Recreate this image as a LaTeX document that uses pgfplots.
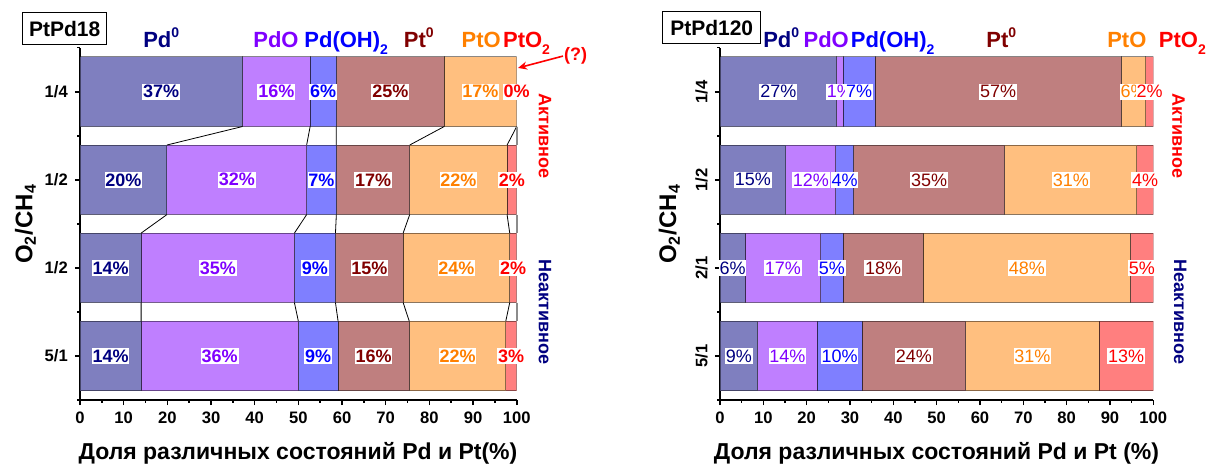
\documentclass[border=0pt]{standalone}
\usepackage{pgfplots}
\pgfplotsset{compat=1.18}
\usepackage{pgfplotstable}
\usepackage{fontspec}
\setmainfont{Liberation Sans}
\usetikzlibrary{arrows.meta}

\definecolor{cNavy}{RGB}{0,0,128}
\definecolor{cViolet}{RGB}{128,0,255}
\definecolor{cBlue}{RGB}{0,0,255}
\definecolor{cWine}{RGB}{128,0,0}
\definecolor{cOrange}{RGB}{255,128,0}
\definecolor{cRed}{RGB}{255,0,0}
\definecolor{fNavy}{RGB}{127,127,191}
\definecolor{fViolet}{RGB}{191,127,255}
\definecolor{fBlue}{RGB}{127,127,255}
\definecolor{fWine}{RGB}{191,127,127}
\definecolor{fOrange}{RGB}{255,191,127}
\definecolor{fRed}{RGB}{255,127,127}

% segment widths (%), y: 3 = top row
\pgfplotstableread{
y a b c d e f
3 37.2 15.5 6.0 24.7 16.6 0.0
2 19.9 32.0 6.8 16.8 22.3 2.2
1 14.0 35.1 9.4 15.5 24.4 1.6
0 14.0 36.0 9.1 16.3 22.1 2.5
}\leftdata
\pgfplotstableread{
y xa la xb lb xc lc xd ld xe le xf lf
3 18.6 37 44.95 16 55.7 6 71.05 25 91.7 17 100 0
2 9.95 20 35.9 32 55.3 7 67.1 17 86.65 22 98.9 2
1 7.0 14 31.55 35 53.8 9 66.25 15 86.2 24 99.2 2
0 7.0 14 32.0 36 54.55 9 67.25 16 86.45 22 98.75 3
}\leftlab
\pgfplotstableread{
y k1 k2 k3 k4 k5 k6
2.605 37.2 52.7 58.7 83.4 100 100
2.395 19.9 51.9 58.7 75.5 97.8 100
nan nan nan nan nan nan nan
1.605 19.9 51.9 58.7 75.5 97.8 100
1.395 14.0 49.1 58.5 74.0 98.4 100
nan nan nan nan nan nan nan
0.605 14.0 49.1 58.5 74.0 98.4 100
0.395 14.0 50.0 59.1 75.4 97.5 100
}\leftconn
\pgfplotstableread{
y a b c d e f
3 26.9 1.5 7.4 56.8 5.7 1.7
2 15.2 11.5 4.1 34.9 30.5 3.8
1 5.8 17.4 5.2 18.5 47.8 5.3
0 8.7 13.7 10.4 23.9 30.8 12.5
}\rightdata
\pgfplotstableread{
y xa la xb lb xc lc xd ld xe le xf lf
3 13.45 27 27.65 1 32.1 7 64.2 57 95.45 6 99.15 2
2 7.6 15 20.95 12 28.75 4 48.25 35 80.95 31 98.1 4
1 2.9 6 14.5 17 25.8 5 37.65 18 70.8 48 97.35 5
0 4.35 9 15.55 14 27.6 10 44.75 24 72.1 31 93.75 13
}\rightlab

\newcommand{\hdr}{\bfseries\fontsize{11}{13}\selectfont}
\newcommand{\side}{\bfseries\fontsize{9}{11}\selectfont}
\newcommand{\supz}{\raisebox{0.45em}{\fontsize{7}{8}\selectfont 0}}
\newcommand{\subt}{\raisebox{-0.33em}{\fontsize{7}{8}\selectfont 2}}

\pgfplotsset{
  base/.style={scale only axis, height=176.15pt, xmin=0, xmax=100, ymin=-0.5, ymax=3.5},
  bars/.style={base, xbar stacked, bar width=0.79,
    axis x line*=bottom, axis y line*=left,
    axis line style={line width=1pt},
    every tick/.style={black, line width=0.8pt},
    tick align=outside, major tick length=2.6pt, minor tick length=1.5pt,
    xtick={0,10,...,100}, minor xtick={5,15,...,95},
    ytick={0,1,2,3}, minor ytick={-0.5,0.5,1.5,2.5,3.5},
    /pgf/number format/assume math mode=true,
    xticklabel style={font=\bfseries\fontsize{8.3}{10}\selectfont},
    yticklabel style={font=\bfseries\fontsize{8.3}{10}\selectfont},
  },
  seg/.style={fill=#1, draw=black, draw opacity=0.45, line width=0.5pt},
  over/.style={base, hide axis, clip=false},
  lab/.style 2 args={only marks, mark=none, point meta=explicit symbolic,
    nodes near coords={\pgfplotspointmeta\%}, nodes near coords align=center,
    every node near coord/.append style={anchor=center, text=#1, fill=white,
      inner xsep=0.4pt, inner ysep=0.9pt, font=#2}},
  conn/.style={black, line width=0.4pt, unbounded coords=jump, no markers},
}
\tikzset{hd/.style={inner sep=0pt, font=\hdr, text=#1}}

\begin{document}
\begin{tikzpicture}
\path[use as bounding box] (0,0) rectangle (607pt,233pt);

% ---------------- left panel ----------------
\begin{axis}[bars, at={(40pt,33pt)}, anchor=south west, width=218.35pt,
  yticklabels={5/1,1/2,1/2,1/4}]
\addplot[seg=fNavy] table[x=a,y=y]{\leftdata};
\addplot[seg=fViolet] table[x=b,y=y]{\leftdata};
\addplot[seg=fBlue] table[x=c,y=y]{\leftdata};
\addplot[seg=fWine] table[x=d,y=y]{\leftdata};
\addplot[seg=fOrange] table[x=e,y=y]{\leftdata};
\addplot[seg=fRed] table[x=f,y=y]{\leftdata};
\end{axis}
\begin{axis}[over, at={(40pt,33pt)}, anchor=south west, width=218.35pt]
\addplot[conn] table[x=k1,y=y]{\leftconn};
\addplot[conn] table[x=k2,y=y]{\leftconn};
\addplot[conn] table[x=k3,y=y]{\leftconn};
\addplot[conn] table[x=k4,y=y]{\leftconn};
\addplot[conn] table[x=k5,y=y]{\leftconn};
\addplot[conn, black!45, line width=0.9pt] table[x=k6,y=y]{\leftconn};
\addplot[lab={cNavy}{\side}] table[x=xa,y=y,meta=la]{\leftlab};
\addplot[lab={cViolet}{\side}] table[x=xb,y=y,meta=lb]{\leftlab};
\addplot[lab={cBlue}{\side}] table[x=xc,y=y,meta=lc]{\leftlab};
\addplot[lab={cWine}{\side}] table[x=xd,y=y,meta=ld]{\leftlab};
\addplot[lab={cOrange}{\side}] table[x=xe,y=y,meta=le]{\leftlab};
\addplot[lab={cRed}{\side}] table[x=xf,y=y,meta=lf]{\leftlab};
\node[hd=cNavy, anchor=base west] at (axis cs:14.4,3.5) {Pd\supz};
\node[hd=cViolet, anchor=base west] at (axis cs:39.6,3.5) {PdO};
\node[hd=cBlue, anchor=base west] at (axis cs:51.3,3.5) {Pd(OH)\subt};
\node[hd=cWine, anchor=base west] at (axis cs:74.1,3.5) {Pt\supz};
\node[hd=cOrange, anchor=base west] at (axis cs:87.3,3.5) {PtO};
\node[hd=cRed, anchor=base west] at (axis cs:96.8,3.5) {PtO\subt};
\node[rotate=-90, text=cRed, font=\side] at (axis cs:106.5,2.5) {Активное};
\node[rotate=-90, text=cNavy, font=\side] at (axis cs:106.5,0.5) {Неактивное};
\draw[cRed, line width=0.8pt, -{Stealth[length=4.5pt,width=4pt]}] (axis cs:110.6,3.405) -- (axis cs:100.3,3.27);
\node[text=cRed, font=\side] at (axis cs:113.5,3.41) {(?)};
\node[rotate=90, font=\bfseries\fontsize{12}{14}\selectfont] at (rel axis cs:-0.125,0.5) {O\textsubscript{2}/CH\textsubscript{4}};
\end{axis}
\node[draw, line width=0.5pt, minimum width=42pt, minimum height=15.8pt, inner sep=0pt,
  font=\bfseries\fontsize{10.5}{12}\selectfont] at (32.35pt,218.75pt) {PtPd18};
\node[anchor=base, font=\bfseries\fontsize{11.5}{13}\selectfont] at (149pt,3.5pt) {Доля различных состояний Pd и Pt(\%)};

% ---------------- right panel ----------------
\begin{axis}[bars, at={(360pt,33pt)}, anchor=south west, width=216.65pt,
  yticklabels={5/1,2/1,1/2,1/4},
  yticklabel style={rotate=90, anchor=south}]
\addplot[seg=fNavy] table[x=a,y=y]{\rightdata};
\addplot[seg=fViolet] table[x=b,y=y]{\rightdata};
\addplot[seg=fBlue] table[x=c,y=y]{\rightdata};
\addplot[seg=fWine] table[x=d,y=y]{\rightdata};
\addplot[seg=fOrange] table[x=e,y=y]{\rightdata};
\addplot[seg=fRed] table[x=f,y=y]{\rightdata};
\end{axis}
\begin{axis}[over, at={(360pt,33pt)}, anchor=south west, width=216.65pt]
\addplot[lab={cNavy}{\fontsize{9}{11}\selectfont}] table[x=xa,y=y,meta=la]{\rightlab};
\addplot[lab={cViolet}{\fontsize{9}{11}\selectfont}] table[x=xb,y=y,meta=lb]{\rightlab};
\addplot[lab={cBlue}{\fontsize{9}{11}\selectfont}] table[x=xc,y=y,meta=lc]{\rightlab};
\addplot[lab={cWine}{\fontsize{9}{11}\selectfont}] table[x=xd,y=y,meta=ld]{\rightlab};
\addplot[lab={cOrange}{\fontsize{9}{11}\selectfont}] table[x=xe,y=y,meta=le]{\rightlab};
\addplot[lab={cRed}{\fontsize{9}{11}\selectfont}] table[x=xf,y=y,meta=lf]{\rightlab};
\node[hd=cNavy, anchor=base west] at (axis cs:9.9,3.5) {Pd\supz};
\node[hd=cViolet, anchor=base west] at (axis cs:19.2,3.5) {PdO};
\node[hd=cBlue, anchor=base west] at (axis cs:30.1,3.5) {Pd(OH)\subt};
\node[hd=cWine, anchor=base west] at (axis cs:61.4,3.5) {Pt\supz};
\node[hd=cOrange, anchor=base east] at (axis cs:98.5,3.5) {PtO};
\node[hd=cRed, anchor=base west] at (axis cs:101.2,3.5) {PtO\subt};
\node[rotate=-90, text=cRed, font=\side] at (axis cs:105.8,2.5) {Активное};
\node[rotate=-90, text=cNavy, font=\side] at (axis cs:106.2,0.5) {Неактивное};
\node[rotate=90, font=\bfseries\fontsize{12}{14}\selectfont] at (rel axis cs:-0.117,0.5) {O\textsubscript{2}/CH\textsubscript{4}};
\end{axis}
\node[draw, line width=0.5pt, minimum width=49pt, minimum height=15.8pt, inner sep=0pt,
  font=\bfseries\fontsize{10.5}{12}\selectfont] at (355.85pt,219.25pt) {PtPd120};
\node[anchor=base, font=\bfseries\fontsize{11.5}{13}\selectfont] at (468.25pt,3.5pt) {Доля различных состояний Pd и Pt (\%)};
\end{tikzpicture}
\end{document}
